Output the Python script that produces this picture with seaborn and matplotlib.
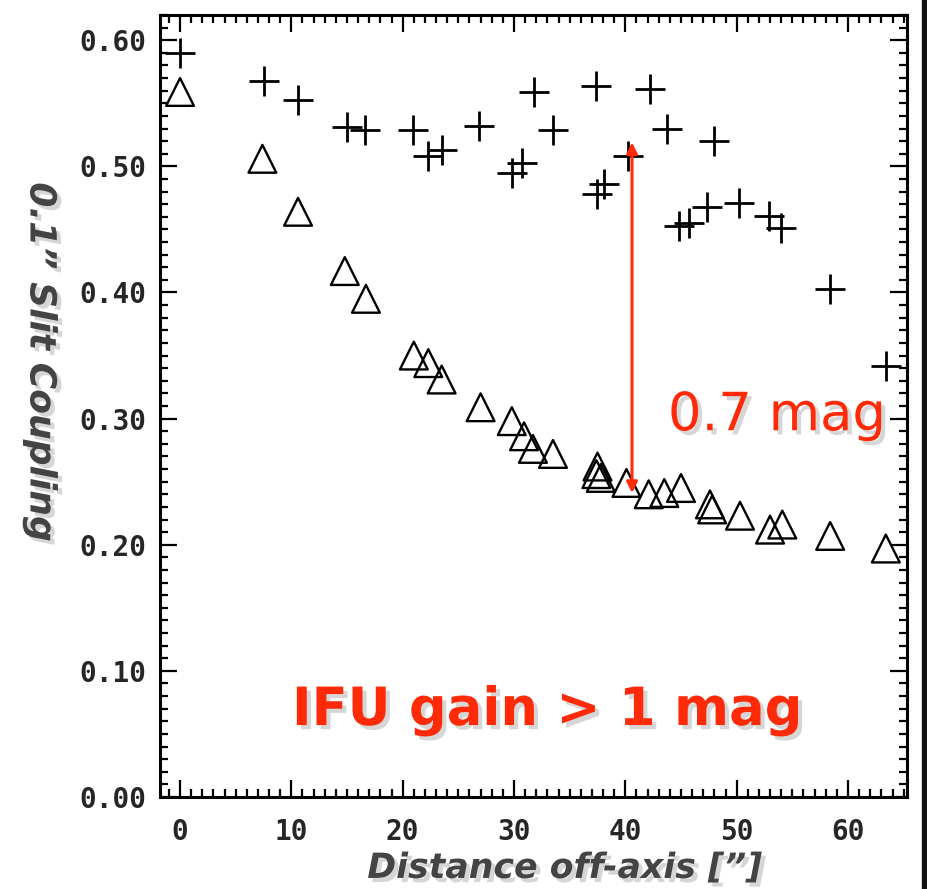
import numpy as np
import pandas as pd
import seaborn as sns
import matplotlib
matplotlib.use('Agg')
import matplotlib.pyplot as plt
import matplotlib.patheffects as pe
from matplotlib.ticker import MultipleLocator, FixedLocator

# plus markers (upper series)
dist_plus = [0.0, 7.5, 10.6, 15.0, 16.6, 20.9, 22.3, 23.5, 26.9, 31.8, 33.5, 29.8, 30.7,
             37.4, 42.2, 43.7, 40.2, 37.5, 38.1, 48.0, 44.8, 45.7, 47.3, 50.2, 52.9,
             54.0, 58.4, 63.4]
coup_plus = [0.590, 0.568, 0.553, 0.531, 0.529, 0.529, 0.508, 0.513, 0.532, 0.559, 0.529,
             0.495, 0.503, 0.564, 0.561, 0.530, 0.508, 0.478, 0.486, 0.520, 0.453, 0.455,
             0.468, 0.471, 0.461, 0.451, 0.403, 0.342]

# triangle markers (lower series)
dist_tri = [0.0, 7.4, 10.6, 14.8, 16.7, 21.0, 22.3, 23.5, 27.0, 29.8, 30.9, 31.7, 33.5,
            37.5, 37.4, 37.8, 40.1, 42.1, 43.5, 45.0, 47.6, 47.8, 50.3, 53.0, 54.1,
            58.4, 63.4]
coup_tri = [0.559, 0.506, 0.464, 0.417, 0.395, 0.350, 0.344, 0.331, 0.309, 0.298, 0.286,
            0.276, 0.272, 0.262, 0.256, 0.253, 0.249, 0.240, 0.241, 0.245, 0.232, 0.228,
            0.223, 0.212, 0.216, 0.207, 0.197]

# red arrow between the two curves
arrow_x = 40.6
arrow_top = 0.519
arrow_bottom = 0.241

xticks = [0, 10, 20, 30, 40, 50, 60]
yticks = [0.0, 0.1, 0.2, 0.3, 0.4, 0.5, 0.6]
ytick_labels = ['0.00', '0.10', '0.20', '0.30', '0.40', '0.50', '0.60']

red = '#ff2a08'
gray_lab = '#444444'

sns.set_style('white')
plt.rcParams['font.family'] = ['DejaVu Sans']

fig = plt.figure(figsize=(9.27, 8.89), dpi=100)
ax = fig.add_axes([0.1726, 0.1035, 0.8058, 0.8796])

plus_df = pd.DataFrame({'dist': dist_plus, 'coup': coup_plus})
tri_df = pd.DataFrame({'dist': dist_tri, 'coup': coup_tri})

sns.scatterplot(data=plus_df, x='dist', y='coup', marker='+', s=440,
                color='black', linewidth=2.0, ax=ax, zorder=3)
sns.scatterplot(data=tri_df, x='dist', y='coup', marker='^', s=400,
                facecolor='none', edgecolor='black', linewidth=1.7, ax=ax, zorder=3)

ax.set_xlim(-1.8, 65.3)
ax.set_ylim(0, 0.62)

ax.xaxis.set_major_locator(FixedLocator(xticks))
ax.xaxis.set_minor_locator(MultipleLocator(1))
ax.yaxis.set_major_locator(FixedLocator(yticks))
ax.yaxis.set_minor_locator(MultipleLocator(0.01))
ax.set_xticklabels([str(t) for t in xticks])
ax.set_yticklabels(ytick_labels)

ax.tick_params(which='both', direction='in', top=True, right=True,
               bottom=True, left=True, width=1.6, color='black')
ax.tick_params(which='major', length=12)
ax.tick_params(which='minor', length=6)
ax.tick_params(axis='x', which='major', pad=15)
ax.tick_params(axis='y', which='major', pad=10)
for lab in ax.get_xticklabels() + ax.get_yticklabels():
    lab.set_family('DejaVu Sans Mono')
    lab.set_fontweight('bold')
    lab.set_fontsize(20)

for sp in ax.spines.values():
    sp.set_linewidth(2.2)
    sp.set_color('black')

shadow = [pe.withSimplePatchShadow(offset=(3, -3), shadow_rgbFace='#9a9a9a', alpha=0.4)]

ax.set_xlabel('Distance off-axis [\u201d]', fontsize=25, fontweight='bold',
              style='italic', color=gray_lab, path_effects=shadow)
ax.xaxis.set_label_coords(0.542, -0.069)
ax.set_ylabel('0.1\u201d Slit Coupling', fontsize=26, fontweight='bold',
              style='italic', color=gray_lab, rotation=-90, path_effects=shadow,
              va='center', ha='center')
ax.yaxis.set_label_coords(-0.160, 0.556)

ax.annotate('', xy=(arrow_x, arrow_top), xytext=(arrow_x, arrow_bottom),
            arrowprops=dict(arrowstyle='<|-|>', color=red, lw=2.2,
                            mutation_scale=16, shrinkA=0, shrinkB=0), zorder=4)

ax.text(0.680, 0.469, '0.7 mag', transform=ax.transAxes, fontsize=38,
        color=red, ha='left', va='baseline', path_effects=shadow, zorder=5)
ax.text(0.518, 0.092, 'IFU gain > 1 mag', transform=ax.transAxes, fontsize=38,
        fontweight='bold', color=red, ha='center', va='baseline',
        path_effects=shadow, zorder=5)

# dark slide edge on the right
fig.patches.append(plt.Rectangle((922 / 927, 0), 1, 1, transform=fig.transFigure,
                                 color='#111111', zorder=0))

fig.savefig('out.png', dpi=100)
